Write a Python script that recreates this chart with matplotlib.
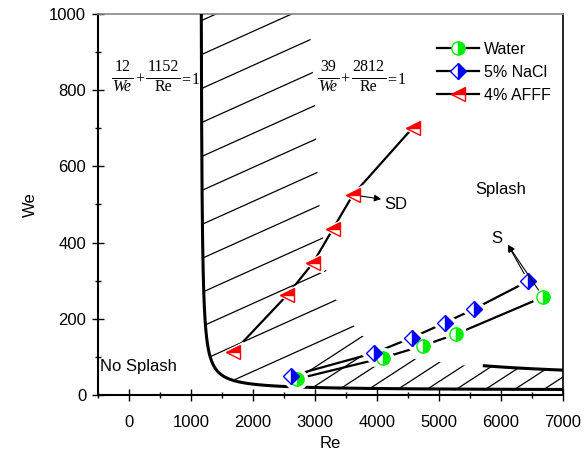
import numpy as np
import matplotlib
matplotlib.use("Agg")
import matplotlib.pyplot as plt
from matplotlib.collections import LineCollection
from matplotlib.lines import Line2D
from matplotlib.patches import Polygon
from matplotlib.ticker import MultipleLocator
from matplotlib.transforms import IdentityTransform

plt.rcParams['font.family'] = ['Liberation Sans', 'DejaVu Sans']

# data
water_re = [2710, 4090, 4735, 5280, 6680]
water_we = [42, 97, 129, 160, 257]
nacl_re = [2616, 3950, 4560, 5090, 5570, 6440]
nacl_we = [50, 110, 150, 189, 226, 299]
afff_re = [1685, 2550, 2970, 3290, 3610, 4575]
afff_we = [113, 262, 347, 436, 525, 701]

# boundary constants from the equations on the chart: a/We + b/Re = 1
b1_a, b1_b = 12, 1152
b2_a, b2_b = 39, 2812

# hatch region outlines (Re, We)
hatch_edge_a = [(2910, 1000), (2910, 976), (2960, 858), (3000, 766), (3020, 664),
                (3040, 585), (3070, 501), (3130, 410), (3183, 325), (3312, 257),
                (3553, 197), (3746, 157)]
hatch_top_b = [(3746, 157), (4200, 112), (4662, 92), (4984, 87), (5466, 76)]


def boundary(a, b, re):
    return a / (1 - b / re)


fig = plt.figure(figsize=(5.85, 4.63), dpi=100)
ax = fig.add_axes([0.1675, 0.147, 0.795, 0.823])
ax.set_xlim(-500, 7000)
ax.set_ylim(0, 1000)

re1 = b1_b + np.geomspace(14, 7000 - b1_b, 400)
we1 = boundary(b1_a, b1_b, re1)
ax.plot(re1, we1, color='black', lw=2.2, zorder=3)

re2 = np.linspace(5730, 7000, 50)
we2 = boundary(b2_a, b2_b, re2)
ax.plot(re2, we2, color='black', lw=2.2, zorder=3)


def hatch(verts, slope, step):
    # parallel lines in axes fraction, clipped to a polygon in data coords
    w, h = 465.0, 381.0
    k = slope * w / h
    offs = np.arange(-k - 1, 1.0, step / h)
    segs = [[(0, c), (1, c + k)] for c in offs]
    lc = LineCollection(segs, colors='black', linewidths=0.9,
                        transform=ax.transAxes, zorder=2)
    poly = Polygon(verts, closed=True, transform=ax.transData)
    ax.add_collection(lc)
    lc.set_clip_path(poly)


split = 2300
mask = re1 <= split
poly_a = [(r - 5, w) for r, w in zip(re1[mask], we1[mask])]
poly_a = poly_a + hatch_edge_a[::-1]
hatch(poly_a, 0.45, 34)

mask_b = re1 >= split
poly_b = hatch_top_b + list(zip(re2, we2)) + [(7000, 0)]
poly_b = poly_b + list(zip(re1[mask_b][::-1], we1[mask_b][::-1] - 3))
hatch(poly_b, 0.65, 19)


def series(x, y, marker, color, fill, ms, label):
    ax.plot(x, y, '-', color='black', lw=1.6, zorder=4)
    ax.plot(x, y, linestyle='none', marker=marker, ms=ms + 5, mfc='white',
            mec='white', zorder=5)
    ax.plot(x, y, linestyle='none', marker=marker, ms=ms, mfc=color,
            mec=color, mew=1.0, fillstyle=fill, markerfacecoloralt='white',
            zorder=6)
    return ax.plot([], [], '-', color='black', lw=1.6, marker=marker, ms=ms,
                   mfc=color, mec=color, mew=1.0, fillstyle=fill,
                   markerfacecoloralt='white', label=label)[0]


h1 = series(water_re, water_we, 'o', '#00ee00', 'right', 9.5, 'Water')
h2 = series(nacl_re, nacl_we, 'D', '#0000ff', 'right', 8.5, '5% NaCl')
h3 = series(afff_re, afff_we, '<', '#ff0000', 'top', 10, '4% AFFF')

leg = ax.legend(handles=[h1, h2, h3], loc='upper right',
                bbox_to_anchor=(1.004, 0.965), frameon=False, fontsize=11.5,
                handlelength=2.6, handletextpad=0.3, labelspacing=0.5)

arrow = dict(arrowstyle='-|>', color='black', lw=0.8, mutation_scale=10,
             shrinkA=6, shrinkB=0)
ax.annotate('', xy=(4067, 514), xytext=(afff_re[4], afff_we[4]),
            arrowprops=arrow, zorder=7)
ax.text(4115, 501, 'SD', fontsize=12, va='center', ha='left')
ax.annotate('', xy=(6110, 394), xytext=(nacl_re[-1], nacl_we[-1]),
            arrowprops=arrow, zorder=7)
ax.annotate('', xy=(6110, 394), xytext=(water_re[-1], water_we[-1]),
            arrowprops=arrow, zorder=7)
ax.text(5930, 410, 'S', fontsize=12, va='center', ha='center')

ax.text(6000, 540, 'Splash', fontsize=12, va='center', ha='center')
ax.text(-460, 75, 'No Splash', fontsize=12, va='center', ha='left')

# equations built from pieces so the fractions keep full-size digits
renderer = fig.canvas.get_renderer()
serif = dict(family='Liberation Serif', fontsize=11.5, transform=IdentityTransform())


def width_of(s, **kw):
    t = fig.text(0, 0, s, **serif, **kw)
    w = t.get_window_extent(renderer).width
    t.remove()
    return w


def put(x, y, s, **kw):
    fig.text(x, y, s, **serif, **kw)
    return width_of(s, **kw)


def equation(re, we, a, b):
    x, y = ax.transData.transform((re, we))
    for num, den, style in [(str(a), 'We', 'italic'), (str(b), 'Re', 'normal')]:
        w = max(width_of(num), width_of(den, style=style)) + 2
        put(x + w / 2, y + 2.5, num, ha='center', va='bottom')
        put(x + w / 2, y - 1.5, den, ha='center', va='top', style=style)
        fig.add_artist(Line2D([x, x + w], [y, y], color='black', lw=0.7,
                              transform=IdentityTransform()))
        x += w + 2
        if den == 'We':
            x += put(x, y, '+', va='center_baseline', ha='left') + 2
    x += put(x, y, '=', va='center_baseline', ha='left') + 1.5
    put(x, y, '1', va='center_baseline', ha='left')


equation(-270, 832, b1_a, b1_b)
equation(3040, 832, b2_a, b2_b)

ax.set_xlabel('Re', fontsize=12, labelpad=4)
ax.set_ylabel('We', fontsize=12, labelpad=8)
ax.xaxis.set_major_locator(MultipleLocator(1000))
ax.xaxis.set_minor_locator(MultipleLocator(500))
ax.yaxis.set_major_locator(MultipleLocator(200))
ax.yaxis.set_minor_locator(MultipleLocator(100))
ax.tick_params(which='major', direction='inout', length=9, width=1.0,
               labelsize=12, pad=4, top=False, right=False)
ax.tick_params(which='minor', direction='inout', length=5, width=1.0,
               top=False, right=False)
ax.tick_params(axis='x', which='major', pad=10)
for s in ['left', 'bottom']:
    ax.spines[s].set_linewidth(1.5)
ax.spines['right'].set_linewidth(1.2)
ax.spines['top'].set_color('#888888')
ax.spines['top'].set_linewidth(1.2)

fig.savefig('out.png', dpi=100)
